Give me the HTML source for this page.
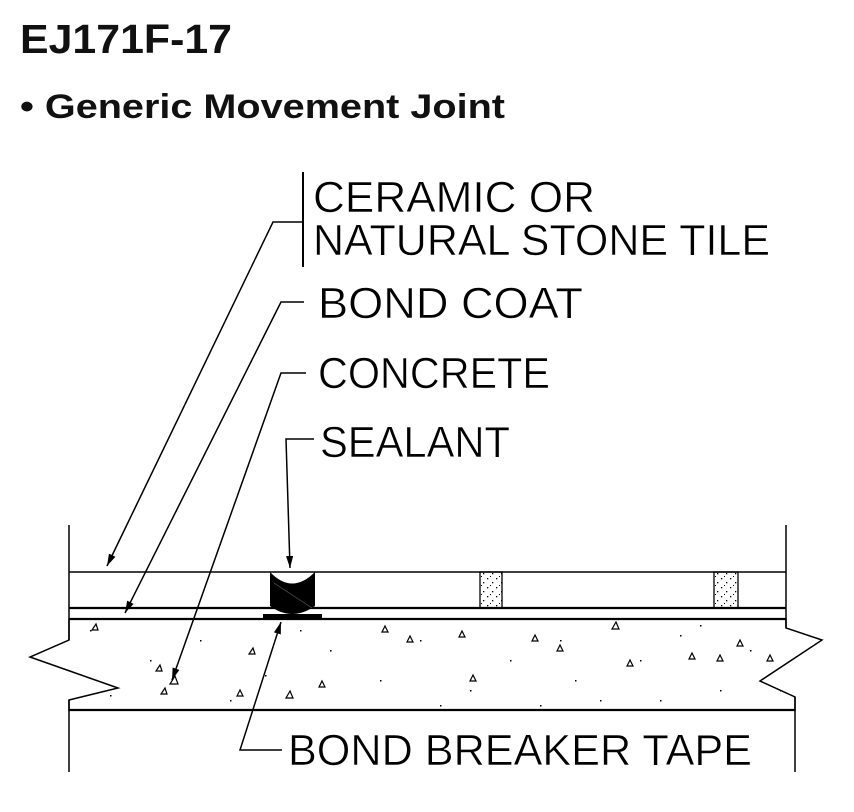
<!DOCTYPE html>
<html><head><meta charset="utf-8"><style>
html,body{margin:0;padding:0;background:#fff;width:854px;height:812px;overflow:hidden}
svg{display:block}
</style></head><body>
<svg width="854" height="812" viewBox="0 0 854 812" xmlns="http://www.w3.org/2000/svg">
<defs>
<marker id="ar" viewBox="0 0 10 10" refX="10" refY="5" markerWidth="12" markerHeight="12" orient="auto" markerUnits="userSpaceOnUse">
<path d="M0,2 L10,5 L0,8 Z" fill="#000"/>
</marker>
<pattern id="dots" width="9" height="9" patternUnits="userSpaceOnUse">
<rect x="1" y="2" width="1.3" height="1.3" fill="#000"/><rect x="6" y="6" width="1.3" height="1.3" fill="#000"/><rect x="4" y="0" width="1" height="1" fill="#000"/>
</pattern>
</defs>
<text x="20" y="53" font-family="Liberation Sans, sans-serif" font-weight="bold" font-size="41" fill="#111" textLength="212" lengthAdjust="spacingAndGlyphs">EJ171F-17</text>
<text x="20" y="118" font-family="Liberation Sans, sans-serif" font-weight="bold" font-size="34" fill="#111" textLength="485" lengthAdjust="spacingAndGlyphs">• Generic Movement Joint</text>

<g font-family="Liberation Sans, sans-serif" font-size="44" fill="#000" stroke="#fff" stroke-width="0.6">
<text x="313" y="212" textLength="282" lengthAdjust="spacingAndGlyphs">CERAMIC OR</text>
<text x="313" y="255" textLength="457" lengthAdjust="spacingAndGlyphs">NATURAL STONE TILE</text>
<text x="318" y="318" textLength="265" lengthAdjust="spacingAndGlyphs">BOND COAT</text>
<text x="318" y="388" textLength="232" lengthAdjust="spacingAndGlyphs">CONCRETE</text>
<text x="320" y="457" textLength="190" lengthAdjust="spacingAndGlyphs">SEALANT</text>
<text x="288" y="765" textLength="464" lengthAdjust="spacingAndGlyphs">BOND BREAKER TAPE</text>
</g>

<!-- concrete -->
<path d="M69,619 L786,619 L786,628 L822,640 L760,681 L795,697 L795,710 L69,710 L69,700 L118,688 L30,657 L69,640 Z" fill="#fff" stroke="#000" stroke-width="1.5"/>
<g fill="#000">
<rect x="90" y="630" width="1.5" height="1.5"/><rect x="150" y="660" width="1.5" height="1.5"/><rect x="200" y="640" width="1.5" height="1.5"/>
<rect x="230" y="700" width="1.5" height="1.5"/><rect x="330" y="650" width="1.5" height="1.5"/><rect x="380" y="680" width="1.5" height="1.5"/>
<rect x="420" y="640" width="1.5" height="1.5"/><rect x="470" y="690" width="1.5" height="1.5"/><rect x="510" y="660" width="1.5" height="1.5"/>
<rect x="560" y="640" width="1.5" height="1.5"/><rect x="600" y="700" width="1.5" height="1.5"/><rect x="640" y="660" width="1.5" height="1.5"/>
<rect x="680" y="635" width="1.5" height="1.5"/><rect x="720" y="690" width="1.5" height="1.5"/><rect x="750" y="650" width="1.5" height="1.5"/>
<rect x="110" y="695" width="1.5" height="1.5"/><rect x="265" y="675" width="1.5" height="1.5"/><rect x="300" y="630" width="1.5" height="1.5"/>
<rect x="440" y="705" width="1.5" height="1.5"/><rect x="575" y="680" width="1.5" height="1.5"/><rect x="660" y="700" width="1.5" height="1.5"/>
<rect x="700" y="625" width="1.5" height="1.5"/><rect x="780" y="690" width="1.5" height="1.5"/><rect x="540" y="705" width="1.5" height="1.5"/>
</g>
<g fill="none" stroke="#000" stroke-width="1.2">
<path d="M96,624 l-4,6 h6z"/><path d="M160,665 l-4,6 h6z"/><path d="M175,676 l-5,8 h8z"/><path d="M165,688 l-4,6 h6z"/>
<path d="M253,648 l-4,6 h6z"/><path d="M290,691 l-4,7 h7z"/><path d="M322,681 l-3,6 h6z"/><path d="M385,626 l-3,6 h6z"/>
<path d="M410,636 l-3,6 h6z"/><path d="M462,631 l-3,6 h6z"/><path d="M535,635 l-3,6 h6z"/><path d="M560,645 l-3,6 h6z"/>
<path d="M616,622 l-4,7 h7z"/><path d="M692,653 l-3,6 h6z"/><path d="M720,655 l-3,6 h6z"/><path d="M740,640 l-3,6 h6z"/>
<path d="M770,655 l-3,6 h6z"/><path d="M473,675 l-3,6 h6z"/><path d="M630,660 l-3,6 h6z"/><path d="M240,690 l-3,6 h6z"/>
</g>

<!-- tile layers -->
<g stroke="#000" fill="none">
<line x1="69" y1="572" x2="786" y2="572" stroke-width="1.5"/>
<line x1="69" y1="608" x2="786" y2="608" stroke-width="2.2"/>
<line x1="69" y1="619" x2="786" y2="619" stroke-width="2.2"/>
<line x1="69" y1="710" x2="795" y2="710" stroke-width="2.2"/>
<line x1="69" y1="525" x2="69" y2="640" stroke-width="1.5"/>
<line x1="786" y1="525" x2="786" y2="628" stroke-width="1.5"/>
<line x1="69" y1="700" x2="69" y2="772" stroke-width="1.5"/>
<line x1="795" y1="697" x2="795" y2="772" stroke-width="1.5"/>
</g>
<!-- grout joints -->
<rect x="480" y="572" width="22" height="36" fill="url(#dots)" stroke="#000" stroke-width="1.3"/>
<rect x="714" y="572" width="24" height="36" fill="url(#dots)" stroke="#000" stroke-width="1.3"/>
<!-- sealant & tape -->
<rect x="263" y="614" width="59" height="5" fill="#000"/>
<path d="M270,572 Q292,595 315,572 L315,606 Q292,622 270,606 Z" fill="#000"/>
<line x1="274" y1="583" x2="312" y2="608" stroke="#444" stroke-width="0.8"/>

<!-- leaders -->
<g stroke="#000" fill="none" stroke-width="1.5">
<line x1="303" y1="172" x2="303" y2="267" stroke-width="2"/>
<polyline points="303,222 273,222 107,566" marker-end="url(#ar)"/>
<polyline points="304,302 281,302 125,613" marker-end="url(#ar)"/>
<polyline points="306,373 281,373 172,680" marker-end="url(#ar)"/>
<polyline points="314,439 286,439 290,568" marker-end="url(#ar)"/>
<polyline points="282,750 240,750 281,622" marker-end="url(#ar)"/>
</g>
</svg>
</body></html>
